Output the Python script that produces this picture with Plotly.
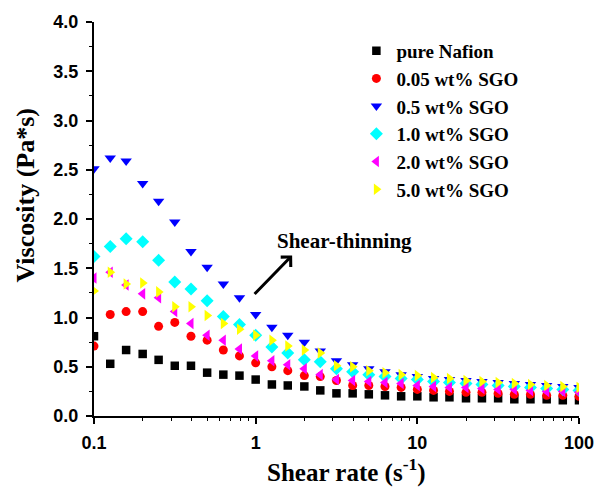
import plotly.graph_objects as go

# Shear rate (s^-1), ten points per decade
shear_rate = [0.1, 0.126, 0.158, 0.2, 0.251, 0.316, 0.398, 0.501, 0.631, 0.794,
              1.0, 1.26, 1.58, 2.0, 2.51, 3.16, 3.98, 5.01, 6.31, 7.94,
              10.0, 12.6, 15.8, 20.0, 25.1, 31.6, 39.8, 50.1, 63.1, 79.4, 100.0]

# Viscosity (Pa*s) for each membrane solution
pure_nafion = [0.81, 0.53, 0.67, 0.63, 0.57, 0.51, 0.51, 0.44, 0.42, 0.41, 0.37, 0.32,
               0.31, 0.30, 0.26, 0.23, 0.23, 0.22, 0.21, 0.20, 0.20,
               0.19, 0.19, 0.18, 0.18, 0.18, 0.17, 0.17, 0.17, 0.16, 0.16]
sgo_005 = [0.71, 1.03, 1.06, 1.06, 0.91, 0.95, 0.81, 0.77, 0.67, 0.61, 0.54, 0.50,
           0.46, 0.41, 0.40, 0.36, 0.31, 0.31, 0.30, 0.29, 0.27,
           0.26, 0.25, 0.24, 0.24, 0.23, 0.22, 0.22, 0.21, 0.21, 0.20]
sgo_05 = [2.51, 2.62, 2.59, 2.36, 2.18, 1.97, 1.67, 1.51, 1.34, 1.20, 1.03, 0.90,
          0.82, 0.75, 0.66, 0.56, 0.52, 0.48, 0.45, 0.42, 0.40,
          0.38, 0.37, 0.36, 0.35, 0.34, 0.33, 0.32, 0.31, 0.30, 0.29]
sgo_10 = [1.62, 1.72, 1.80, 1.77, 1.58, 1.36, 1.29, 1.17, 1.01, 0.93, 0.82, 0.70,
          0.64, 0.57, 0.55, 0.48, 0.45, 0.42, 0.40, 0.38, 0.37,
          0.35, 0.34, 0.33, 0.32, 0.31, 0.30, 0.29, 0.28, 0.27, 0.26]
sgo_20 = [1.40, 1.46, 1.33, 1.24, 1.20, 1.06, 0.94, 0.82, 0.77, 0.68, 0.61, 0.56,
          0.52, 0.48, 0.42, 0.37, 0.36, 0.35, 0.34, 0.33, 0.31,
          0.30, 0.29, 0.29, 0.28, 0.27, 0.27, 0.26, 0.25, 0.25, 0.24]
sgo_50 = [1.27, 1.46, 1.34, 1.35, 1.26, 1.11, 1.11, 1.02, 0.94, 0.88, 0.82, 0.77,
          0.71, 0.67, 0.64, 0.51, 0.50, 0.46, 0.44, 0.42, 0.41,
          0.39, 0.38, 0.36, 0.35, 0.34, 0.33, 0.32, 0.31, 0.30, 0.29]

series_names = ["pure Nafion", "0.05 wt% SGO", "0.5 wt% SGO",
                "1.0 wt% SGO", "2.0 wt% SGO", "5.0 wt% SGO"]
series_values = [pure_nafion, sgo_005, sgo_05, sgo_10, sgo_20, sgo_50]
series_colors = ["#000000", "#ff0000", "#0000ff", "#00ffff", "#ff00ff", "#ffff00"]
series_symbols = ["square", "circle", "triangle-down", "diamond",
                  "triangle-left", "triangle-right"]
series_sizes = [8.5, 9, 10, 10, 10, 10]

x_major = [0.1, 1, 10, 100]
x_major_text = ["0.1", "1", "10", "100"]
x_minor = [m * d for d in (0.1, 1, 10) for m in range(2, 10)]

serif = "Liberation Serif, Times New Roman, serif"
sans = "Liberation Sans, Arial, sans-serif"

fig = go.Figure()
for name, vals, col, sym, sz in zip(series_names, series_values, series_colors,
                                    series_symbols, series_sizes):
    fig.add_trace(go.Scatter(
        x=shear_rate, y=vals, name=name, mode="markers",
        marker=dict(symbol=sym, size=sz, color=col, line=dict(width=0)),
    ))

axis_common = dict(
    showgrid=False, zeroline=False, showline=True, linecolor="black",
    linewidth=2, ticks="outside", ticklen=6, tickwidth=1.5, tickcolor="black",
    tickfont=dict(family=sans, size=18, color="black", weight="bold"),
)

fig.update_xaxes(
    type="log", range=[-1, 2], tickvals=x_major, ticktext=x_major_text,
    ticklabelstandoff=3,
    minor=dict(tickvals=x_minor, ticks="outside", ticklen=3, tickwidth=1.2,
               tickcolor="black"),
    **axis_common,
)
fig.update_yaxes(
    range=[0, 4], tick0=0, dtick=0.5, tickformat=".1f",
    ticklabelstandoff=4,
    minor=dict(dtick=0.25, ticks="outside", ticklen=3, tickwidth=1.2,
               tickcolor="black"),
    **axis_common,
)

# Axis titles
fig.add_annotation(
    text="Viscosity (Pa*s)", textangle=-90, xref="paper", yref="paper",
    x=-0.142, y=0.56, xanchor="center", yanchor="middle", showarrow=False,
    font=dict(family=serif, size=26, color="black", weight="bold"),
)
fig.add_annotation(
    text="Shear rate (s<sup>-1</sup>)", xref="paper", yref="paper",
    x=0.52, y=-0.138, xanchor="center", yanchor="middle", showarrow=False,
    font=dict(family=serif, size=25, color="black", weight="bold"),
)

# Shear-thinning arrow and label
fig.add_annotation(
    x=0.2256, y=1.63, xref="x", yref="y", ax=-39, ay=40, text="",
    showarrow=True, arrowhead=4, arrowsize=0.9, arrowwidth=3, arrowcolor="black",
)
fig.add_annotation(
    x=0.55, y=1.78, xref="x", yref="y", text="Shear-thinning", showarrow=False,
    xanchor="center", yanchor="middle",
    font=dict(family=serif, size=21, color="black", weight="bold"),
)

fig.update_layout(
    width=606, height=492,
    margin=dict(l=94, r=20, t=18, b=76),
    paper_bgcolor="white", plot_bgcolor="white",
    legend=dict(
        x=0.541, y=0.975, xanchor="left", yanchor="top",
        bgcolor="rgba(0,0,0,0)",
        font=dict(family=serif, size=19, color="black", weight="bold"),
    ),
)

fig.write_html("out.html")
